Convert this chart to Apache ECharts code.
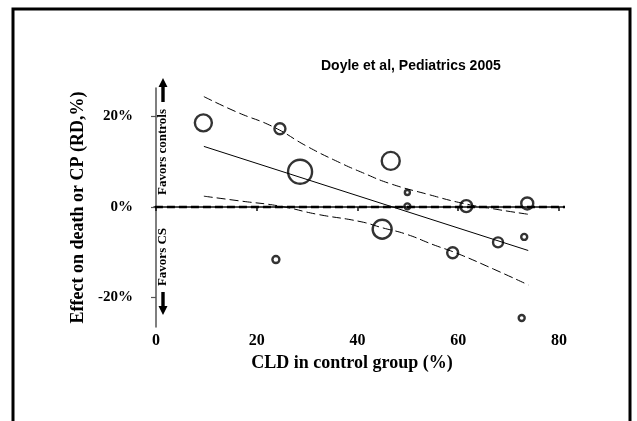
<!DOCTYPE html>
<html>
<head>
<meta charset="utf-8">
<script src="https://cdn.jsdelivr.net/npm/echarts@6/dist/echarts.min.js"></script>
<style>html,body{margin:0;padding:0;background:#fff}#c{width:637px;height:421px}</style>
</head>
<body>
<div id="c"></div>
<script>
// ---- data ----
const studyX = [9.4, 24.6, 28.6, 23.8, 46.6, 49.9, 49.9, 61.6, 73.7, 44.9, 73.1, 67.9, 58.9, 72.6];
const studyY = [18.6, 17.3, 7.8, -11.6, 10.2, 3.2, 0.15, 0.2, 0.8, -4.9, -6.6, -7.8, -10.1, -24.5];
const studyWeight = [17, 11, 24, 7, 18, 5, 6, 12, 12, 19, 6, 10, 11, 6];
const regressionLine = [[9.5, 13.4], [73.9, -9.6]];
const upperCI = [[9.5, 24.4], [16, 21.0], [23.3, 17.7], [30, 13.4], [36.5, 9.8], [41, 7.6], [46.4, 5.2], [54, 2.8], [61, 0.8], [67, -0.4], [73.9, -1.6]];
const lowerCI = [[9.5, 2.4], [17, 1.3], [24.6, 0.2], [32, -1.6], [40.5, -3.2], [45, -4.6], [49.7, -6.0], [55, -8.3], [59.7, -10.2], [67, -13.7], [73.9, -17.2]];
const zeroLine = [[-2.6, 0], [83.5, 0]];
const xTicks = [0, 20, 40, 60, 80];
const yTicks = [-20, 0, 20];
const titleText = 'Doyle et al, Pediatrics 2005';
const xName = 'CLD in control group (%)';
const yName = 'Effect on death or CP (RD,%)';
const upText = 'Favors controls';
const downText = 'Favors CS';

const serif = "'Liberation Serif', 'DejaVu Serif', serif";
const chart = echarts.init(document.getElementById('c'), null, {renderer: 'canvas'});
const bubbles = studyX.map((x, i) => [x, studyY[i], studyWeight[i]]);

chart.setOption({
  animation: false,
  backgroundColor: '#fff',
  title: {
    text: titleText, left: 321, top: 59, padding: 0,
    textStyle: {fontFamily: "'Liberation Sans', Arial, sans-serif", fontWeight: 'bold', fontSize: 14, color: '#000'}
  },
  grid: {left: 154, right: 74, top: 88, bottom: 94, containLabel: false},
  xAxis: {
    type: 'value', min: -0.4, max: 80.8,
    splitLine: {show: false},
    axisLine: {show: true, lineStyle: {color: '#111', width: 1.5}},
    axisTick: {show: true, length: 4, customValues: xTicks, lineStyle: {color: '#111', width: 1.5}},
    axisLabel: {customValues: xTicks, margin: 6, fontFamily: serif, fontWeight: 'bold', fontSize: 16, color: '#000'},
    name: xName, nameLocation: 'middle', nameGap: 26,
    nameTextStyle: {fontFamily: serif, fontWeight: 'bold', fontSize: 18, color: '#000', padding: [0, 13, 0, 0]}
  },
  yAxis: {
    type: 'value', min: -26.5, max: 26.3, offset: 11,
    splitLine: {show: false},
    axisLine: {show: true, lineStyle: {color: '#555', width: 1.5}},
    axisTick: {show: true, length: 5, customValues: yTicks, lineStyle: {color: '#555', width: 1.2}},
    axisLabel: {customValues: yTicks, margin: 10, formatter: v => v + '%', fontFamily: serif, fontWeight: 'bold', fontSize: 15, color: '#000'},
    name: yName, nameLocation: 'middle', nameRotate: 90, nameGap: 49,
    nameTextStyle: {fontFamily: serif, fontWeight: 'bold', fontSize: 18, color: '#000'}
  },
  series: [
    {type: 'line', data: zeroLine, symbol: 'none', clip: false, silent: true,
     lineStyle: {color: '#000', width: 2.5, type: [8, 4]}},
    {type: 'line', data: regressionLine, symbol: 'none', silent: true,
     lineStyle: {color: '#000', width: 1}},
    {type: 'line', data: upperCI, symbol: 'none', smooth: true, silent: true,
     lineStyle: {color: '#000', width: 1, type: [9, 4]}},
    {type: 'line', data: lowerCI, symbol: 'none', smooth: true, silent: true,
     lineStyle: {color: '#000', width: 1, type: [9, 4]}},
    {type: 'scatter', data: bubbles, symbol: 'circle', symbolSize: d => d[2],
     itemStyle: {color: 'rgba(255,255,255,0)', borderColor: '#000', borderWidth: 2.4}}
  ],
  graphic: [
    {type: 'rect', shape: {x: 13, y: 9, width: 617, height: 440}, style: {fill: 'none', stroke: '#000', lineWidth: 3}, silent: true},
    {type: 'polygon', shape: {points: [[163, 78], [158.5, 87], [161.3, 87], [161.3, 102], [164.7, 102], [164.7, 87], [167.5, 87]]}, style: {fill: '#000'}},
    {type: 'polygon', shape: {points: [[163, 315], [158.5, 306], [161.3, 306], [161.3, 292], [164.7, 292], [164.7, 306], [167.5, 306]]}, style: {fill: '#000'}},
    {type: 'text', x: 163, y: 152, rotation: Math.PI / 2,
     style: {text: upText, font: "bold 13px 'Liberation Serif', serif", fill: '#000', align: 'center', verticalAlign: 'middle'}},
    {type: 'text', x: 163, y: 257, rotation: Math.PI / 2,
     style: {text: downText, font: "bold 13px 'Liberation Serif', serif", fill: '#000', align: 'center', verticalAlign: 'middle'}}
  ]
});
</script>
</body>
</html>
